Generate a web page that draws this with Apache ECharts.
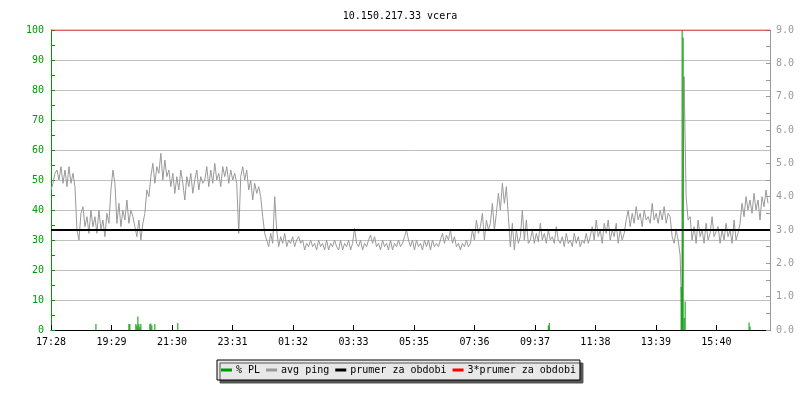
<!DOCTYPE html>
<html>
<head>
<meta charset="utf-8">
<title>10.150.217.33 vcera</title>
<script src="https://cdn.jsdelivr.net/npm/echarts@6/dist/echarts.min.js"></script>
<style>
  html, body { margin: 0; padding: 0; background: #fff; }
  #chart { width: 800px; height: 400px; }
</style>
</head>
<body>
<div id="chart"></div>
<script>
// casova osa: minuty od 17:28, jeden bod avg ping kazde 4 minuty
var pingStep = 4;
var xStep = 121.15;
var timeLabels = ['17:28', '19:29', '21:30', '23:31', '01:32', '03:33',
                  '05:35', '07:36', '09:37', '11:38', '13:39', '15:40'];

// avg ping (prava osa)
var pingValues = [
  4.2, 4.4, 4.7, 4.8, 4.5, 4.9, 4.4, 4.8, 4.3, 4.9, 4.4, 4.7, 4.3,
  3.0, 2.7, 3.5, 3.7, 3.1, 3.4, 2.9, 3.6, 3.1, 3.4, 2.9, 3.6, 3.0, 3.3, 2.8, 3.5, 3.2,
  4.2, 4.8, 4.4,
  3.2, 3.8, 3.1, 3.6, 3.3, 3.9, 3.2, 3.6, 3.4,
  3.1, 2.8, 3.3, 2.7, 3.2,
  3.5, 4.2, 4.0,
  4.6, 5.0, 4.4, 4.9, 4.7, 5.3, 4.5, 5.1, 4.6, 4.8,
  4.3, 4.7, 4.1, 4.6, 4.2, 4.8, 4.4, 3.9, 4.6, 4.3, 4.7, 4.1, 4.5, 4.8, 4.2, 4.6, 4.4,
  4.5, 4.9, 4.3, 4.8, 4.4, 5.0, 4.5, 4.7, 4.3, 4.9,
  4.6, 4.9, 4.4, 4.8, 4.5, 4.7, 4.4, 2.9,
  4.6, 4.9, 4.5, 4.8,
  4.2, 4.5, 3.9, 4.4, 4.1, 4.3, 4.0,
  3.4, 2.9,
  2.7, 2.5, 2.9, 2.6, 4.0,
  3.0,
  2.5, 2.8, 2.6, 2.9, 2.5, 2.7, 2.6, 2.8, 2.5, 2.7,
  2.8, 2.6, 2.7, 2.4, 2.6, 2.5, 2.7, 2.5, 2.6, 2.4,
  2.7, 2.5, 2.6, 2.4, 2.7, 2.4, 2.6, 2.5, 2.7, 2.5,
  2.4, 2.7, 2.4, 2.6, 2.5, 2.7, 2.4, 2.6,
  3.05,
  2.6, 2.5, 2.7, 2.4, 2.6, 2.5, 2.7, 2.85, 2.6, 2.8,
  2.5, 2.6, 2.4, 2.7, 2.5, 2.6, 2.4, 2.7, 2.4, 2.6,
  2.5, 2.7, 2.5, 2.6,
  2.8, 3.0, 2.7,
  2.5, 2.7, 2.4, 2.7, 2.5, 2.6, 2.4, 2.7, 2.5, 2.7, 2.4, 2.7, 2.5, 2.6, 2.5,
  2.7, 2.9, 2.6, 2.85, 2.7, 3.0, 2.6, 2.8,
  2.5, 2.6, 2.4, 2.6, 2.5, 2.7, 2.5,
  2.6, 3.0, 2.7, 3.3, 2.9,
  3.1, 3.5, 2.7, 3.3, 3.0,
  3.2, 3.8, 3.0,
  3.5, 4.1, 3.6, 4.4, 3.8, 4.3,
  3.4,
  2.5, 3.2, 2.4, 3.0, 2.6,
  2.8, 3.6, 2.7, 3.3, 2.6,
  2.7, 3.0, 2.6, 2.9, 2.65, 3.2, 2.7, 2.9, 2.6, 3.0, 2.7, 2.8, 2.6, 3.1, 2.7,
  2.6, 2.8, 2.5, 2.9, 2.6, 2.7, 2.5, 2.9, 2.6, 2.8, 2.5, 2.7, 2.6, 2.9, 2.6,
  2.8, 3.1, 2.7, 3.3, 2.8, 3.0, 2.6, 3.2, 2.9, 3.3, 2.7, 3.0, 2.8, 3.2, 2.6, 3.0, 2.7, 2.9,
  3.3, 3.6, 3.1, 3.5, 3.2, 3.7, 3.3, 3.5, 3.1, 3.6, 3.3, 3.4, 3.2, 3.8, 3.3, 3.5, 3.2, 3.6,
  3.3, 3.7, 3.2, 3.5, 3.4,
  2.8, 2.6, 3.0, 2.7,
  2.25, 0, 7.6,
  4.0, 3.3, 3.4, 2.7, 3.1, 2.6, 3.3, 2.8, 3.0, 2.6, 3.2, 2.7, 2.9, 3.4, 2.8,
  2.8, 3.1, 2.6, 3.0, 2.7, 3.2, 2.8, 3.0, 2.6, 3.3, 2.7, 2.9,
  3.2, 3.8, 3.4, 4.0, 3.6,
  3.9, 3.5, 4.1, 3.6, 3.9, 3.3, 4.0, 3.7, 4.2, 3.8
];

// % PL (leva osa): minuta, hodnota
var plMinutes = [90, 156, 158, 170, 172, 174, 176, 178, 180, 198, 200, 202, 208, 254,
                 996, 998, 1262, 1264, 1266, 1268, 1270, 1398, 1400];
var plValues  = [2, 2, 2, 2, 1.5, 4.5, 2, 1, 2, 2, 2.2, 1.5, 2, 2.3,
                 1.5, 2.3, 14.3, 100, 97.5, 4, 9.5, 2.5, 1.2];

var meanPing = 3.0;
var totalMinutes = 1440;

var font = 'DejaVu Sans Mono';
var green = '#009900';
var gray = '#999999';

var pingData = pingValues.map(function (v, i) { return [i * pingStep, v]; });
var plData = plMinutes.map(function (m, i) { return [m, plValues[i]]; });

var chart = echarts.init(document.getElementById('chart'));
chart.setOption({
  animation: false,
  title: {
    text: '10.150.217.33 vcera',
    left: 'center',
    top: 6,
    textStyle: { fontFamily: font, fontSize: 10, fontWeight: 'normal', color: '#000' }
  },
  legend: {
    left: 217,
    top: 360,
    padding: [5, 4],
    itemGap: 6,
    itemWidth: 11,
    itemHeight: 3,
    icon: 'rect',
    backgroundColor: '#e8e8e8',
    borderColor: '#000',
    borderWidth: 1,
    borderRadius: 0,
    shadowColor: '#555',
    shadowBlur: 0,
    shadowOffsetX: 3,
    shadowOffsetY: 3,
    textStyle: { fontFamily: font, fontSize: 10, color: '#000', padding: [0, 0, 0, -1] },
    data: ['% PL', 'avg ping', 'prumer za obdobi', '3*prumer za obdobi']
  },
  grid: { left: 51, right: 30, top: 30, bottom: 70 },
  xAxis: {
    type: 'value',
    min: 0,
    max: totalMinutes,
    interval: xStep,
    splitLine: { show: false },
    axisLine: { lineStyle: { color: '#000', width: 1 } },
    axisTick: { inside: true, length: 5, lineStyle: { color: '#000' } },
    axisLabel: {
      fontFamily: font, fontSize: 10, color: '#000', margin: 7,
      showMaxLabel: false,
      formatter: function (v) { return timeLabels[Math.round(v / xStep)] || ''; }
    }
  },
  yAxis: [
    {
      type: 'value',
      min: 0,
      max: 100,
      interval: 10,
      axisLine: { show: true, lineStyle: { color: green, width: 1 } },
      axisTick: { show: true, inside: true, length: 4, lineStyle: { color: green } },
      minorTick: { show: true, splitNumber: 2, length: 4, lineStyle: { color: green } },
      splitLine: { show: true, lineStyle: { color: '#c0c0c0', width: 1 } },
      axisLabel: { fontFamily: font, fontSize: 10, color: green, margin: 7 }
    },
    {
      type: 'value',
      min: 0,
      max: 9,
      interval: 1,
      position: 'right',
      axisLine: { show: true, lineStyle: { color: gray, width: 1 } },
      axisTick: { show: true, inside: true, length: 4, lineStyle: { color: gray } },
      minorTick: { show: true, splitNumber: 2, length: 4, lineStyle: { color: gray } },
      splitLine: { show: false },
      axisLabel: {
        fontFamily: font, fontSize: 10, color: gray, margin: 6,
        formatter: function (v) { return v.toFixed(1); }
      }
    }
  ],
  series: [
    {
      name: 'avg ping',
      type: 'line',
      yAxisIndex: 1,
      data: pingData,
      showSymbol: false,
      symbol: 'none',
      lineStyle: { color: gray, width: 1 },
      itemStyle: { color: gray },
      z: 2
    },
    {
      name: '% PL',
      type: 'bar',
      yAxisIndex: 0,
      data: plData,
      barWidth: 1,
      itemStyle: { color: green },
      z: 3
    },
    {
      name: 'prumer za obdobi',
      type: 'line',
      yAxisIndex: 1,
      data: [[0, meanPing], [totalMinutes, meanPing]],
      symbol: 'none',
      lineStyle: { color: '#000', width: 2 },
      itemStyle: { color: '#000' },
      z: 4
    },
    {
      name: '3*prumer za obdobi',
      type: 'line',
      yAxisIndex: 1,
      data: [[0, meanPing * 3], [totalMinutes, meanPing * 3]],
      symbol: 'none',
      lineStyle: { color: '#ff0000', width: 1 },
      itemStyle: { color: '#ff0000' },
      z: 5
    }
  ]
});
</script>
</body>
</html>
